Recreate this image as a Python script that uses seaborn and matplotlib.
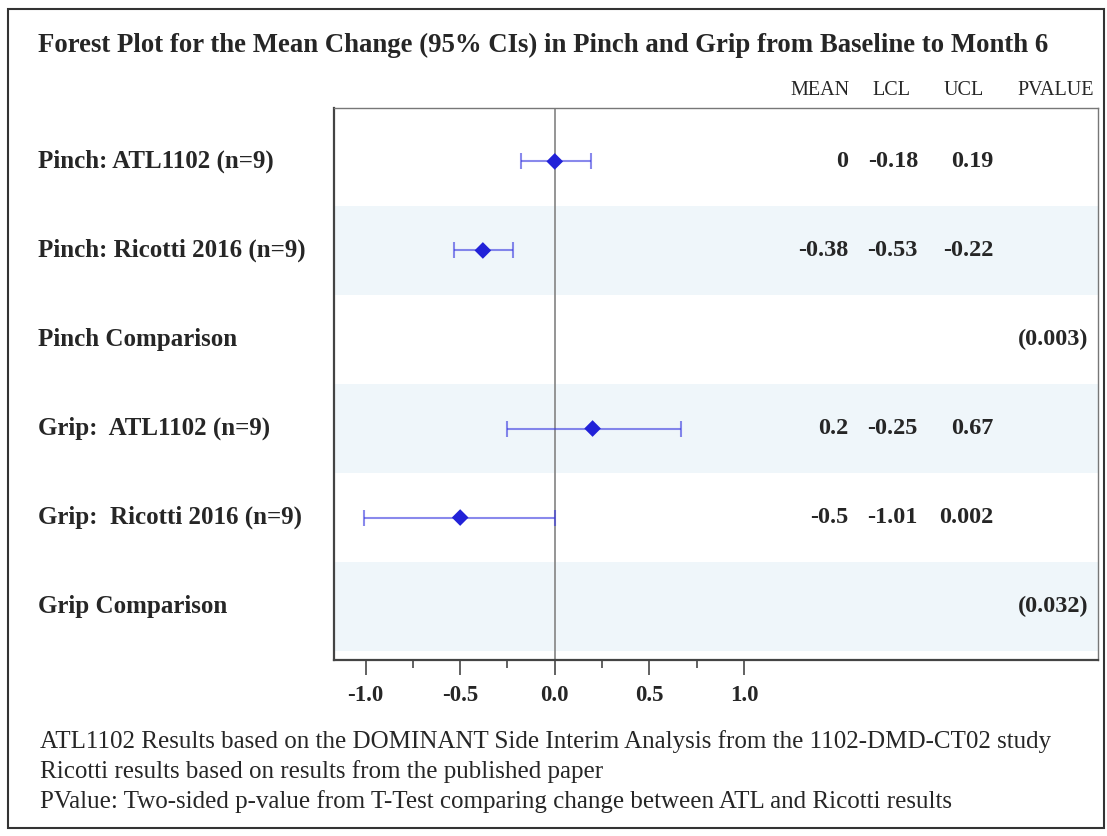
import matplotlib
matplotlib.use("Agg")
import matplotlib.pyplot as plt
import matplotlib.patches as mpatches
import matplotlib.transforms as mtrans
import seaborn as sns
import pandas as pd
import numpy as np

# ---- data ----
row_labels = ["Pinch: ATL1102 (n=9)", "Pinch: Ricotti 2016 (n=9)", "Pinch Comparison",
              "Grip:  ATL1102 (n=9)", "Grip:  Ricotti 2016 (n=9)", "Grip Comparison"]
mean_vals = [0.0, -0.38, np.nan, 0.2, -0.5, np.nan]
lcl_vals = [-0.18, -0.53, np.nan, -0.25, -1.01, np.nan]
ucl_vals = [0.19, -0.22, np.nan, 0.67, 0.002, np.nan]
mean_txt = ["0", "-0.38", "", "0.2", "-0.5", ""]
lcl_txt = ["-0.18", "-0.53", "", "-0.25", "-1.01", ""]
ucl_txt = ["0.19", "-0.22", "", "0.67", "0.002", ""]
pval_txt = ["", "", "(0.003)", "", "", "(0.032)"]
col_headers = ["MEAN", "LCL", "UCL", "PVALUE"]
x_ticks = [-1.0, -0.5, 0.0, 0.5, 1.0]
x_minor = [-0.75, -0.25, 0.25, 0.75]
title = "Forest Plot for the Mean Change (95% CIs) in Pinch and Grip from Baseline to Month 6"
footnotes = ["ATL1102 Results based on the DOMINANT Side Interim Analysis from the 1102-DMD-CT02 study",
             "Ricotti results based on results from the published paper",
             "PValue: Two-sided p-value from T-Test comparing change between ATL and Ricotti results"]

df = pd.DataFrame({"row": np.arange(len(row_labels)), "label": row_labels,
                   "mean": mean_vals, "lcl": lcl_vals, "ucl": ucl_vals})

sns.set_style("white")
plt.rcParams["font.family"] = ["Liberation Serif", "DejaVu Serif"]

W, H = 1107, 836
fig = plt.figure(figsize=(W / 100, H / 100), dpi=100)
ax = fig.add_axes([334 / W, 1 - 660 / H, (1098 - 334) / W, (660 - 108) / H])

# bands
for i in range(len(row_labels)):
    if i % 2 == 1:
        ax.axhspan(i - 0.5, i + 0.5, color="#EFF6FA", lw=0, zorder=0)

ax.axvline(0, color="#8c8c8c", lw=1.3, zorder=1)

d = df.dropna()
ax.errorbar(d["mean"], d["row"], xerr=[d["mean"] - d["lcl"], d["ucl"] - d["mean"]],
            fmt="none", ecolor="#3a3ae0", alpha=0.6, elinewidth=1.5, capsize=6,
            capthick=1.5, zorder=2)
sns.scatterplot(data=d, x="mean", y="row", marker="D", s=72, color="#2222d8",
                edgecolor="none", ax=ax, zorder=3, legend=False)

ax.set_ylim(5.6, -0.6)
ax.set_xlim(-1.167, 2.872)
ax.set_xticks(x_ticks)
ax.set_xticklabels([f"{t:.1f}" for t in x_ticks], fontsize=16.5, fontweight="bold")
ax.set_xticks(x_minor, minor=True)
ax.tick_params(axis="x", which="major", length=11, width=1.3, color="#555555", pad=7, bottom=True)
ax.tick_params(axis="x", which="minor", length=6, width=1.3, color="#555555", bottom=True)
ax.set_yticks([])
ax.set_xlabel("")
ax.set_ylabel("")
for s in ["left", "bottom"]:
    ax.spines[s].set_color("#444444")
    ax.spines[s].set_linewidth(1.6)
for s in ["top", "right"]:
    ax.spines[s].set_color("#777777")
    ax.spines[s].set_linewidth(1.0)

# row labels
tr_fig_y = mtrans.blended_transform_factory(fig.transFigure, ax.transData)
for i, lab in enumerate(row_labels):
    ax.text(38 / W, i, lab, transform=tr_fig_y, ha="left", va="center",
            fontsize=18, fontweight="bold", clip_on=False)

# value columns (data x positions)
col_x = [1.55, 1.92, 2.32, 2.82]
for i in range(len(row_labels)):
    for cx, txt in zip(col_x, [mean_txt[i], lcl_txt[i], ucl_txt[i], pval_txt[i]]):
        if txt:
            ax.text(cx, i, txt, ha="right", va="center", fontsize=17.5, fontweight="bold")

hdr_x = [1.56, 1.88, 2.27, 2.85]
for hx, h in zip(hdr_x, col_headers):
    ax.text(hx, -0.80, h, ha="right", va="center", fontsize=14.5, clip_on=False)

fig.text(38 / W, 1 - 45 / H, title, ha="left", va="center", fontsize=19.3, fontweight="bold")
for k, fn in enumerate(footnotes):
    fig.text(40 / W, 1 - (742 + 30 * k) / H, fn, ha="left", va="center", fontsize=18)

# outer border
fig.patches.append(mpatches.Rectangle((8 / W, 1 - 828 / H), (1104 - 8) / W, (828 - 9) / H,
                                      transform=fig.transFigure, fill=False,
                                      edgecolor="#333333", lw=1.5))

fig.savefig("out.png", dpi=100)
